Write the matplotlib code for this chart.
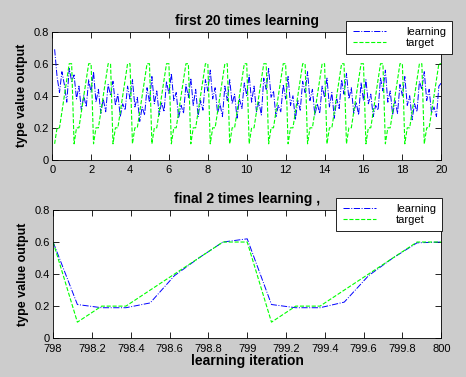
import numpy as np
import matplotlib
matplotlib.use("Agg")
import matplotlib.pyplot as plt

plt.rcParams['font.family'] = ['Liberation Sans', 'DejaVu Sans']

# one epoch of the target sequence (8 samples per iteration unit)
target_cycle = [0.1, 0.2, 0.2, 0.3, 0.4, 0.5, 0.6, 0.6]
n_epochs_top = 20

# network output during the first 20 epochs
learning_top = [
    0.69, 0.52, 0.42, 0.55, 0.47, 0.36, 0.57, 0.49,
    0.53, 0.38, 0.46, 0.31, 0.40, 0.33, 0.50, 0.42,
    0.55, 0.36, 0.44, 0.29, 0.38, 0.30, 0.47, 0.40,
    0.49, 0.34, 0.41, 0.27, 0.35, 0.31, 0.46, 0.38,
    0.50, 0.33, 0.39, 0.24, 0.33, 0.28, 0.45, 0.36,
    0.52, 0.35, 0.43, 0.28, 0.36, 0.30, 0.49, 0.41,
    0.54, 0.37, 0.42, 0.26, 0.34, 0.29, 0.47, 0.39,
    0.51, 0.34, 0.44, 0.27, 0.37, 0.31, 0.50, 0.43,
    0.56, 0.38, 0.45, 0.29, 0.35, 0.27, 0.46, 0.37,
    0.50, 0.35, 0.41, 0.26, 0.38, 0.32, 0.48, 0.40,
    0.53, 0.36, 0.46, 0.30, 0.36, 0.28, 0.51, 0.44,
    0.57, 0.39, 0.43, 0.27, 0.34, 0.30, 0.47, 0.38,
    0.52, 0.34, 0.40, 0.25, 0.37, 0.31, 0.49, 0.42,
    0.55, 0.37, 0.44, 0.28, 0.35, 0.29, 0.46, 0.39,
    0.51, 0.33, 0.42, 0.26, 0.38, 0.32, 0.50, 0.41,
    0.54, 0.38, 0.45, 0.29, 0.36, 0.28, 0.48, 0.37,
    0.50, 0.35, 0.41, 0.27, 0.34, 0.31, 0.51, 0.43,
    0.56, 0.36, 0.43, 0.28, 0.37, 0.29, 0.47, 0.40,
    0.52, 0.34, 0.40, 0.25, 0.35, 0.30, 0.49, 0.44,
    0.55, 0.37, 0.44, 0.29, 0.33, 0.27, 0.46, 0.48,
]
target_top = target_cycle * n_epochs_top

# last two epochs (iteration 798 .. 800)
target_bottom = [0.6] + target_cycle * 2
learning_bottom = [0.60, 0.21, 0.19, 0.19, 0.22, 0.39, 0.50, 0.60, 0.62,
                   0.21, 0.19, 0.19, 0.225, 0.39, 0.50, 0.595, 0.60]

x_top = np.arange(1, len(learning_top) + 1) / 8
x_bottom = 798 + np.arange(len(learning_bottom)) / 8

bg = '#cccccc'
fig = plt.figure(figsize=(4.66, 3.77), dpi=100, facecolor=bg)
ax1 = fig.add_axes([0.112, 0.576, 0.835, 0.340])
ax2 = fig.add_axes([0.114, 0.103, 0.833, 0.340])


def style(ax):
    ax.set_facecolor('white')
    ax.tick_params(direction='in', top=True, right=True, length=4,
                   width=0.6, labelsize=8)
    ax.tick_params(axis='y', pad=2.5)
    ax.tick_params(axis='x', pad=4)
    for s in ax.spines.values():
        s.set_linewidth(0.6)
    ax.set_ylim(0, 0.8)
    ax.set_yticks([0, 0.2, 0.4, 0.6, 0.8])
    ax.set_yticklabels(['0', '0.2', '0.4', '0.6', '0.8'])
    ax.set_ylabel('type value output', fontsize=9, fontweight='bold', labelpad=4)


ax1.plot(x_top, learning_top, color='blue', ls='-.', lw=0.7, label='learning')
ax1.plot(x_top, target_top, color='#00ff00', ls='--', lw=0.8, label='target')
ax1.set_xlim(0, 20)
ax1.set_xticks(range(0, 21, 2))
style(ax1)
ax1.set_title('first 20 times learning', fontsize=10, fontweight='bold', pad=5)

ax2.plot(x_bottom, learning_bottom, color='blue', ls='-.', lw=0.7, label='learning')
ax2.plot(x_bottom, target_bottom, color='#00ff00', ls='--', lw=0.8, label='target')
ax2.set_xlim(798, 800)
ax2.set_xticks(np.arange(798, 800.01, 0.2))
ax2.set_xticklabels(['798', '798.2', '798.4', '798.6', '798.8', '799',
                     '799.2', '799.4', '799.6', '799.8', '800'])
style(ax2)
ax2.set_title('final 2 times learning ,', fontsize=10, fontweight='bold', pad=5)
ax2.set_xlabel('learning iteration', fontsize=10, fontweight='bold', labelpad=0)

for ax, anchor in ((ax1, (452 / 466, 1 - 21 / 377)), (ax2, (442 / 466, 1 - 198 / 377))):
    h, lab = ax.get_legend_handles_labels()
    leg = fig.legend(h, lab, loc='upper right', bbox_to_anchor=anchor,
                     fontsize=8, handlelength=3.0, handletextpad=1.8,
                     labelspacing=0.1, borderpad=0.55, borderaxespad=0,
                     fancybox=False, framealpha=1, edgecolor='black')
    leg.get_frame().set_linewidth(0.6)

fig.savefig('out.png', dpi=100, facecolor=bg)
